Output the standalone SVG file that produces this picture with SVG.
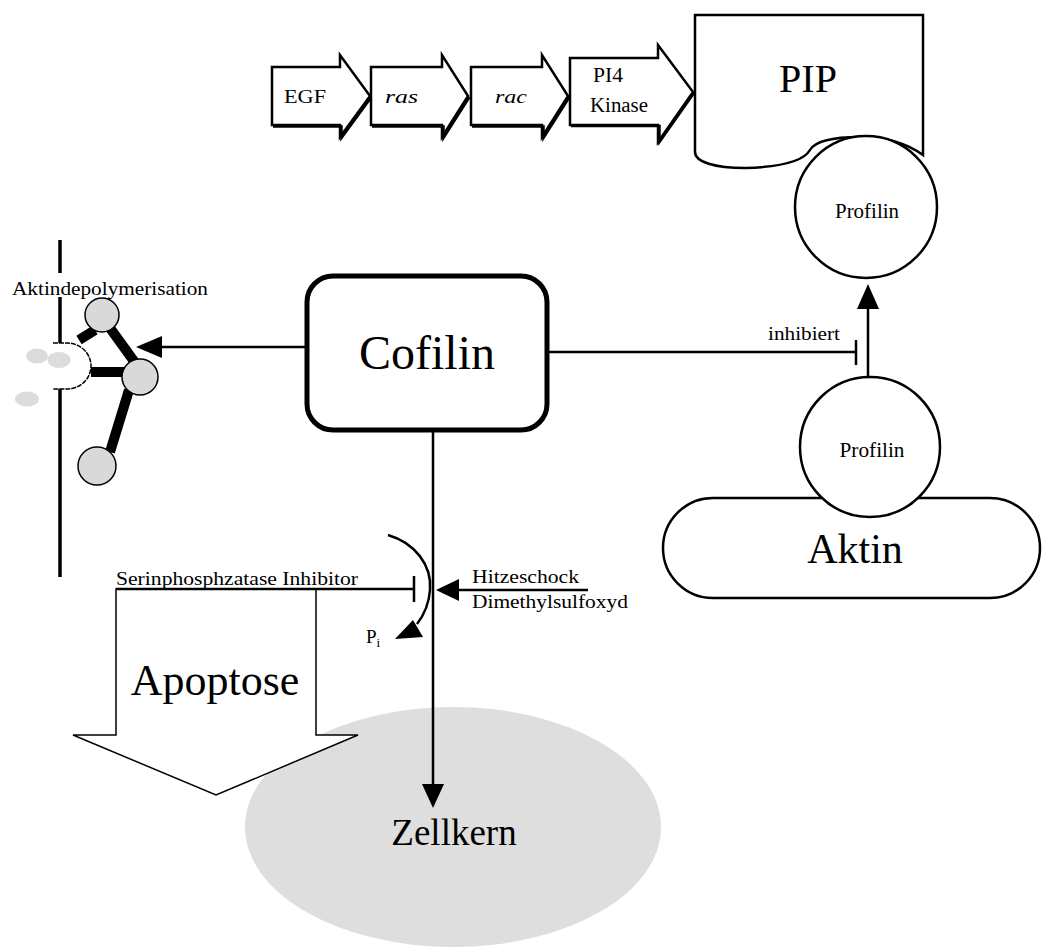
<svg xmlns="http://www.w3.org/2000/svg" width="1047" height="949" viewBox="0 0 1047 949">
  <style>
    text { font-family: "Liberation Serif", "Times New Roman", serif; fill: #000; }
    .sm { font-size: 19px; }
    .node { fill: #fff; stroke: #000; stroke-width: 2.5; }
    .blk { stroke: #000; fill: none; stroke-width: 2.5; }
    .head { fill: #000; stroke: none; }
    .gray { fill: #d9d9d9; stroke: #000; stroke-width: 1.5; }
    .soft { fill: #dcdcdc; stroke: none; }
    .bar { stroke: #000; stroke-width: 10; stroke-linecap: butt; }
  </style>

  <rect width="1047" height="949" fill="#fff"/>

  <!-- cell nucleus -->
  <g id="zellkern">
    <ellipse cx="453" cy="827" rx="208" ry="120" fill="#dedede"/>
    <text x="454" y="845" font-size="37" text-anchor="middle">Zellkern</text>
  </g>

  <!-- signalling chain -->
  <g id="egf">
    <polygon class="node" stroke-width="2.5" points="272,67 340,67 340,55 370,96 340,137 340,125 272,125"/>
    <polyline class="blk" stroke-width="2" points="273,126.5 341.5,126.5 341.5,138 371.5,97"/>
    <text class="sm" x="284" y="103" font-size="21" textLength="42" lengthAdjust="spacingAndGlyphs">EGF</text>
  </g>
  <g id="ras">
    <polygon class="node" points="371,67 442,67 442,55 468,96 442,137 442,125 371,125"/>
    <polyline class="blk" stroke-width="2" points="372,126.5 443.5,126.5 443.5,138 469.5,97"/>
    <text class="sm" x="385" y="103" font-style="italic" font-size="18" textLength="33" lengthAdjust="spacingAndGlyphs">ras</text>
  </g>
  <g id="rac">
    <polygon class="node" points="471,67 542,67 542,55 568,96 542,137 542,125 471,125"/>
    <polyline class="blk" stroke-width="2" points="472,126.5 543.5,126.5 543.5,138 569.5,97"/>
    <text class="sm" x="495" y="103" font-style="italic" font-size="18" textLength="32" lengthAdjust="spacingAndGlyphs">rac</text>
  </g>
  <g id="pi4kinase">
    <polygon class="node" stroke-width="1.5" points="570,58 658,58 658,45 693,92 658,142 658,125 570,125"/>
    <polyline class="blk" stroke-width="2.5" points="571,126 659.5,126 659.5,142 694,93"/>
    <text x="593" y="82" font-size="20" textLength="30" lengthAdjust="spacingAndGlyphs">PI4</text>
    <text x="590" y="112" font-size="20" textLength="58" lengthAdjust="spacingAndGlyphs">Kinase</text>
  </g>

  <g id="pip">
    <path class="node" stroke-width="3" d="M695,15 H923 V155 C905,142 885,137 860,137 C835,137 815,141 810,150 C803,162 780,167 745,168 C715,168 695,162 695,152 Z"/>
    <text x="808" y="92" font-size="40" text-anchor="middle">PIP</text>
  </g>

  <g id="profilin-pip">
    <circle class="node" cx="866" cy="207" r="71"/>
    <text x="867" y="218" font-size="20" text-anchor="middle" textLength="64" lengthAdjust="spacingAndGlyphs">Profilin</text>
  </g>

  <g id="aktin">
    <rect class="node" x="663" y="498" width="377" height="100" rx="50" ry="50"/>
    <text x="855" y="563" font-size="42" text-anchor="middle">Aktin</text>
  </g>

  <g id="profilin-aktin">
    <circle class="node" cx="870" cy="447" r="70"/>
    <text x="872" y="457" font-size="20" text-anchor="middle" textLength="65" lengthAdjust="spacingAndGlyphs">Profilin</text>
  </g>

  <g id="cofilin">
    <rect x="307" y="276" width="240" height="154" rx="26" ry="26" fill="#fff" stroke="#000" stroke-width="5"/>
    <text x="427" y="369" font-size="48" text-anchor="middle">Cofilin</text>
  </g>

  <!-- actin filament being taken apart at the membrane -->
  <g id="aktindepolymerisation">
    <g stroke="#000" stroke-width="3.5">
      <line x1="60" y1="240" x2="60" y2="273"/>
      <line x1="60" y1="297" x2="60" y2="343"/>
      <line x1="60" y1="389" x2="60" y2="577"/>
    </g>
    <path d="M53,343 H67 A24,23 0 0 1 67,389 H53 Z" fill="#fff" stroke="none"/>
    <path d="M53,343 H67 A24,23 0 0 1 67,389 H53" fill="none" stroke="#000" stroke-width="1.5" stroke-dasharray="5 1"/>
    <ellipse class="soft" cx="37" cy="356" rx="11" ry="7.5"/>
    <ellipse class="soft" cx="59" cy="360" rx="11.5" ry="8"/>
    <ellipse class="soft" cx="27" cy="399" rx="12" ry="7.5"/>
    <line class="bar" x1="79" y1="340" x2="95" y2="330" stroke-width="8"/>
    <line class="bar" x1="110" y1="328" x2="136" y2="364"/>
    <line class="bar" x1="91" y1="372" x2="124" y2="372"/>
    <line class="bar" x1="129" y1="390" x2="110" y2="452" stroke-width="11"/>
    <circle class="gray" cx="102" cy="315" r="17"/>
    <circle class="gray" cx="140" cy="377" r="18"/>
    <circle class="gray" cx="97" cy="466" r="19"/>
    <text class="sm" x="12" y="295" font-size="18" textLength="196" lengthAdjust="spacingAndGlyphs">Aktindepolymerisation</text>
  </g>

  <!-- apoptosis block arrow -->
  <g id="apoptose">
    <polygon points="116,589 316,589 316,735 358,735 216,795 73,735 116,735" fill="#fff" stroke="#000" stroke-width="1.5"/>
    <text x="215" y="695" font-size="44" text-anchor="middle">Apoptose</text>
  </g>

  <g id="connectors">
    <!-- Cofilin -> filament -->
    <line class="blk" x1="307" y1="347" x2="160" y2="347"/>
    <polygon class="head" points="136,347 162,336 162,358"/>
    <!-- Cofilin inhibits Profilin release -->
    <line class="blk" x1="547" y1="352" x2="856" y2="352"/>
    <line class="blk" x1="856" y1="340" x2="856" y2="365"/>
    <text class="sm" x="768" y="340" textLength="72" lengthAdjust="spacingAndGlyphs">inhibiert</text>
    <!-- Profilin moves to PIP -->
    <line class="blk" stroke-width="3" x1="868" y1="377" x2="868" y2="305"/>
    <polygon class="head" points="868,284 857,309 879,309"/>
    <!-- Cofilin -> nucleus -->
    <line class="blk" stroke-width="3" x1="433" y1="430" x2="433" y2="788"/>
    <polygon class="head" points="433,808 422,784 444,784"/>
    <!-- serine phosphatase inhibitor -->
    <line class="blk" stroke-width="2" x1="116" y1="589" x2="414" y2="589"/>
    <line class="blk" stroke-width="3" x1="414" y1="576" x2="414" y2="602"/>
    <text class="sm" x="116" y="585" textLength="242" lengthAdjust="spacingAndGlyphs">Serinphosphzatase Inhibitor</text>
    <!-- heat shock / DMSO -->
    <line class="blk" stroke-width="2" x1="588" y1="590" x2="456" y2="590"/>
    <polygon class="head" points="436,590 459,579 459,601"/>
    <text class="sm" x="472" y="583" textLength="107" lengthAdjust="spacingAndGlyphs">Hitzeschock</text>
    <text class="sm" x="472" y="608" textLength="156" lengthAdjust="spacingAndGlyphs">Dimethylsulfoxyd</text>
    <!-- dephosphorylation, Pi released -->
    <path class="blk" stroke-width="3" d="M388,535 C415,543 432,565 430,590 C429,604 424,615 417,624"/>
    <polygon class="head" points="395,639 423,637 413,620"/>
    <text class="sm" x="366" y="643">P<tspan font-size="13" dy="4">i</tspan></text>
  </g>
</svg>
